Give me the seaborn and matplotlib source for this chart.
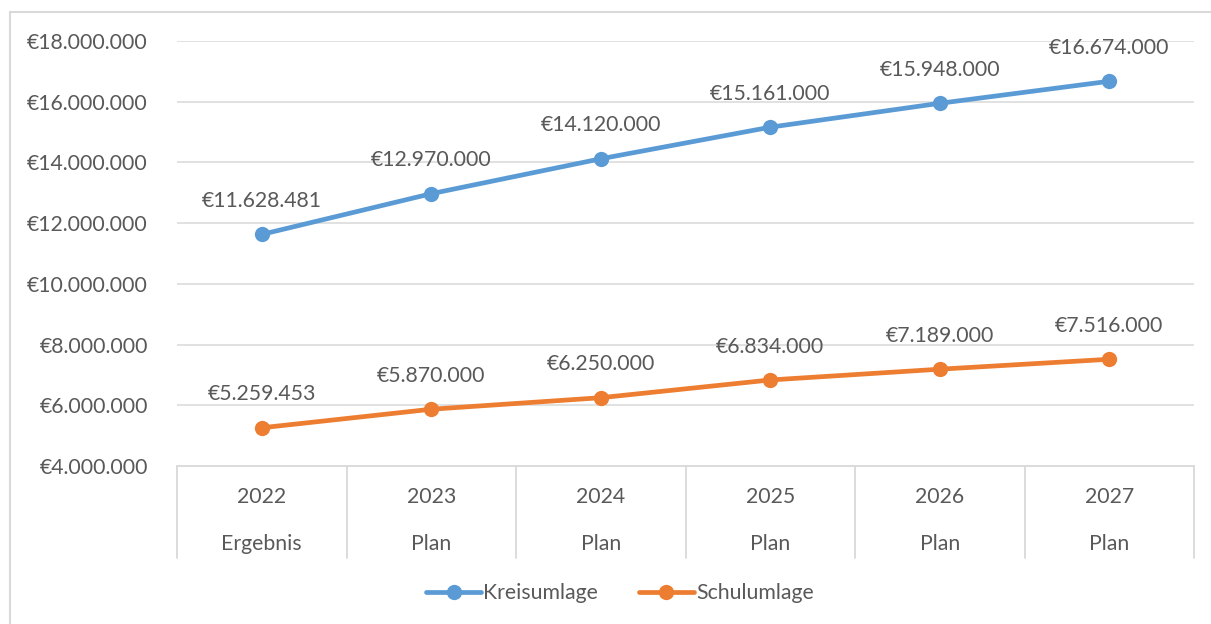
import matplotlib
matplotlib.use("Agg")
import matplotlib.pyplot as plt
import matplotlib.transforms as mtransforms
from matplotlib.lines import Line2D
from matplotlib.patches import Rectangle
import seaborn as sns
import pandas as pd

years = ["2022", "2023", "2024", "2025", "2026", "2027"]
status = ["Ergebnis", "Plan", "Plan", "Plan", "Plan", "Plan"]
kreisumlage = [11628481, 12970000, 14120000, 15161000, 15948000, 16674000]
schulumlage = [5259453, 5870000, 6250000, 6834000, 7189000, 7516000]
series_names = ["Kreisumlage", "Schulumlage"]
colors = ["#5B9BD5", "#ED7D31"]

def euro(v):
    return "€" + f"{v:,.0f}".replace(",", ".")

df = pd.DataFrame({
    "Jahr": years * 2,
    "Wert": kreisumlage + schulumlage,
    "Reihe": [series_names[0]] * 6 + [series_names[1]] * 6,
})

sns.set_theme(style="white")
plt.rcParams["font.family"] = ["Lato", "DejaVu Sans"]
txt = "#595959"
grid = "#D9D9D9"
fs = 15.3

fig = plt.figure(figsize=(12.11, 6.24), dpi=100)
ax = fig.add_axes([177/1211, 1-466/624, (1194-177)/1211, (466-41)/624])

sns.lineplot(data=df, x="Jahr", y="Wert", hue="Reihe", palette=colors,
             marker="o", markersize=11, markeredgewidth=0, linewidth=3.4,
             ax=ax, legend=False, sort=False)

ax.set_xlim(-0.5, 5.5)
ax.set_ylim(4_000_000, 18_000_000)
ticks = list(range(4_000_000, 18_000_001, 2_000_000))
ax.set_yticks(ticks)
ax.set_yticklabels([euro(t) for t in ticks], fontsize=fs, color=txt)
ax.tick_params(axis="y", length=0, pad=21)
ax.set_xticks([])
ax.set_xlabel("")
ax.set_ylabel("")
for y in ticks[1:]:
    ax.axhline(y, color=grid, lw=1.1, zorder=0)
for s in ["top", "right", "left"]:
    ax.spines[s].set_visible(False)
ax.spines["bottom"].set_color(grid)
ax.spines["bottom"].set_linewidth(1.3)

# category table under the axis
trans = mtransforms.blended_transform_factory(ax.transData, ax.transAxes)
for b in [i - 0.5 for i in range(len(years) + 1)]:
    ax.add_line(Line2D([b, b], [0, -92/425], transform=trans, color=grid,
                       lw=1.3, clip_on=False))
for i, (yr, st) in enumerate(zip(years, status)):
    ax.text(i, -31/425, yr, transform=trans, ha="center", va="center",
            fontsize=fs, color=txt)
    ax.text(i, -78/425, st, transform=trans, ha="center", va="center",
            fontsize=fs, color=txt)

# data labels
for vals in [kreisumlage, schulumlage]:
    for i, v in enumerate(vals):
        ax.annotate(euro(v), (i, v), xytext=(0, 24), textcoords="offset points",
                    ha="center", va="center", fontsize=fs, color=txt)

# legend
handles = [Line2D([0], [0], color=c, lw=3.4, marker="o", markersize=11,
                  markeredgewidth=0) for c in colors]
fig.legend(handles, series_names, loc="center", bbox_to_anchor=(620/1211, 1-593/624),
           ncol=2, frameon=False, fontsize=fs, labelcolor=txt, handlelength=2.6,
           handletextpad=0.1, columnspacing=1.9)

# chart border
fig.patches.append(Rectangle((10/1211, -0.1), 1.2, 1-12/624 + 0.1,
                             transform=fig.transFigure, fill=False,
                             edgecolor=grid, lw=1.5))

fig.savefig("out.png", dpi=100, facecolor="white")
